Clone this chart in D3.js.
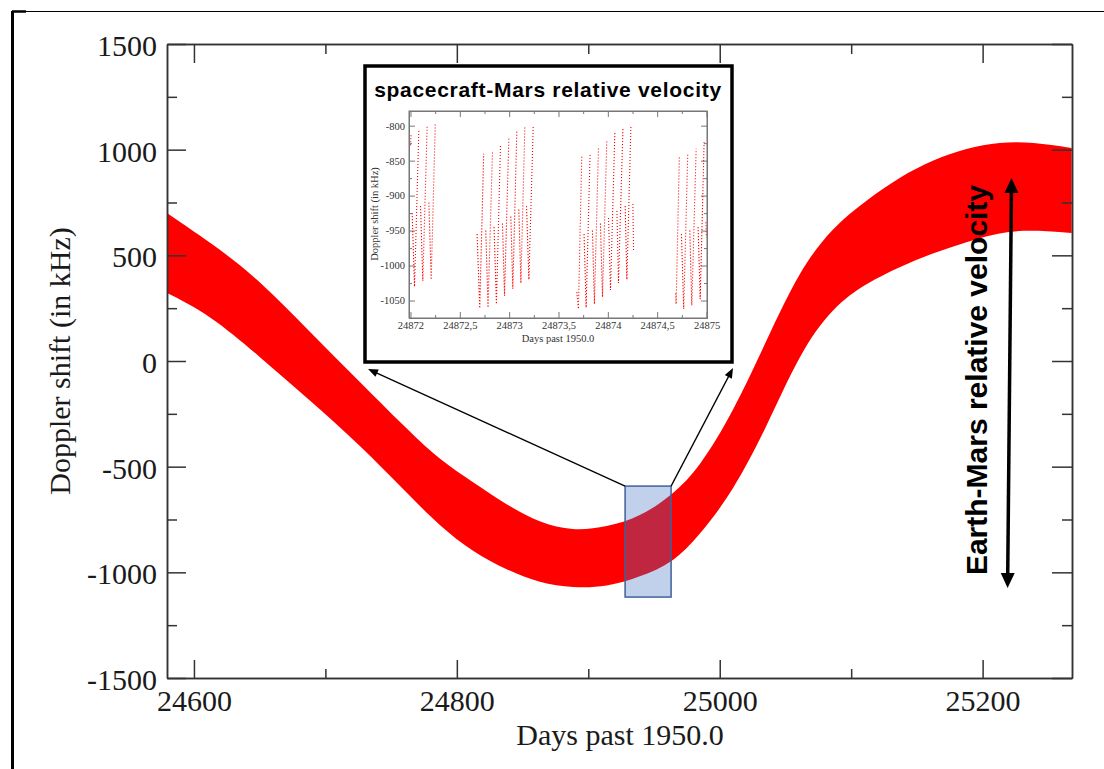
<!DOCTYPE html>
<html>
<head>
<meta charset="utf-8">
<script src="https://cdn.jsdelivr.net/npm/d3@7"></script>
<style>
  html, body { margin: 0; padding: 0; background: #fff; }
</style>
</head>
<body>
<svg id="chart" width="1104" height="769"></svg>
<script>
/* ----------------------
  Doppler shift band (Earth-Mars) + inset of
  spacecraft passes.
* ----------------------- */

// envelope of the red band (kHz)
var bandDays  = [24579.5, 24612.2, 24650.2, 24688.2, 24726.2, 24764.3, 24787.1, 24812.2, 24838.0, 24863.1,
                 24888.2, 24914.1, 24939.2, 24964.3, 24984.8, 25009.9, 25035.7, 25060.8, 25085.9, 25111.8,
                 25136.9, 25162.0, 25187.8, 25212.9, 25238.0, 25267.7];
var bandUpper = [700, 563, 383, 137, -99, -336, -469, -573, -681, -767,
                 -804, -786, -738, -634, -502, -246, 99, 431, 634, 762,
                 871, 951, 1008, 1036, 1036, 1008];
var bandLower = [322, 218, 19, -185, -398, -639, -781, -904, -989, -1051,
                 -1074, -1070, -1022, -956, -823, -620, -312, 38, 255, 369,
                 445, 511, 563, 610, 620, 606];

var xTicks = [24600, 24800, 25000, 25200];
var xMinor = [24700, 24900, 25100];
var yTicks = [-1500, -1000, -500, 0, 500, 1000, 1500];
var yMinor = [-1250, -750, -250, 250, 750, 1250];

// highlighted window on the main plot
var zoomDays = [24928, 24963];
var zoomKHz  = [-1117, -592];

// Earth-Mars arrow (bottom, top)
var arrowDays = [25219, 25222];
var arrowKHz  = [-1074, 866];

// inset axis ticks
var insetXTicks = [24872, 24872.5, 24873, 24873.5, 24874, 24874.5, 24875];
var insetXMinor = [24872.25, 24872.75, 24873.25, 24873.75, 24874.25, 24874.75];
var insetYTicks = [-1050, -1000, -950, -900, -850, -800];
var insetYMinor = [-1025, -975, -925, -875, -825];

// inset passes: [day, kHz] vertices of each dotted trace
var insetPasses = [
  [[24872.0, -828], [24872.005, -813]],
  [[24872.017, -925], [24872.041, -1030], [24872.085, -805]],
  [[24872.102, -915], [24872.125, -1022], [24872.169, -800]],
  [[24872.186, -910], [24872.210, -1020], [24872.251, -798]],
  [[24872.675, -955], [24872.702, -1061], [24872.742, -840]],
  [[24872.763, -950], [24872.786, -1060], [24872.831, -837]],
  [[24872.847, -945], [24872.871, -1055], [24872.912, -828]],
  [[24872.932, -940], [24872.953, -1043], [24872.997, -818]],
  [[24873.017, -930], [24873.037, -1033], [24873.078, -808]],
  [[24873.098, -920], [24873.119, -1025], [24873.159, -802]],
  [[24873.176, -915], [24873.200, -1020], [24873.244, -800]],
  [[24873.685, -1038], [24873.702, -1062], [24873.736, -842]],
  [[24873.759, -955], [24873.780, -1060], [24873.820, -840]],
  [[24873.844, -950], [24873.864, -1055], [24873.905, -832]],
  [[24873.925, -940], [24873.946, -1045], [24873.990, -820]],
  [[24874.007, -932], [24874.027, -1035], [24874.071, -810]],
  [[24874.092, -922], [24874.108, -1025], [24874.153, -803]],
  [[24874.176, -915], [24874.193, -1020], [24874.234, -800]],
  [[24874.254, -912], [24874.261, -980]],
  [[24874.688, -1040], [24874.692, -1055], [24874.725, -843]],
  [[24874.746, -955], [24874.769, -1062], [24874.810, -840]],
  [[24874.831, -950], [24874.851, -1057], [24874.895, -833]],
  [[24874.915, -945], [24874.936, -1048], [24874.976, -823]],
  [[24874.993, -938], [24875.000, -960]]
];

var serif = "'Liberation Serif', 'Times New Roman', serif";
var sans  = "'Liberation Sans', Arial, Helvetica, sans-serif";

// plain hyphen minus like the original figure
var plainFmt = function(d) { return String(d); };
var commaFmt = function(d) { return String(d).replace(".", ","); };

var svg = d3.select("#chart");

// outer frame (only left + top are visible in the figure)
svg.append("line").attr("x1", 12.5).attr("y1", 11).attr("x2", 12.5).attr("y2", 769)
  .attr("stroke", "#000").attr("stroke-width", 3);
svg.append("line").attr("x1", 12).attr("y1", 11.5).attr("x2", 1104).attr("y2", 11.5)
  .attr("stroke", "#000").attr("stroke-width", 1);
svg.append("line").attr("x1", 12).attr("y1", 11.5).attr("x2", 26).attr("y2", 11.5)
  .attr("stroke", "#000").attr("stroke-width", 2.5);

// ---- main plot ----
var x = d3.scaleLinear().domain([24579.5, 25268]).range([167, 1072]);
var y = d3.scaleLinear().domain([-1500, 1500]).range([678, 44]);

var area = d3.area()
  .x(function(d, i) { return x(bandDays[i]); })
  .y0(function(d, i) { return y(bandLower[i]); })
  .y1(function(d, i) { return y(bandUpper[i]); })
  .curve(d3.curveBasis);

svg.append("path")
  .datum(bandDays)
  .attr("d", area)
  .attr("fill", "#ff0000");

// highlight box
svg.append("rect")
  .attr("x", x(zoomDays[0]))
  .attr("y", y(zoomKHz[1]))
  .attr("width", x(zoomDays[1]) - x(zoomDays[0]))
  .attr("height", y(zoomKHz[0]) - y(zoomKHz[1]))
  .attr("fill", "#4472c4")
  .attr("fill-opacity", 0.33)
  .attr("stroke", "#3f6198")
  .attr("stroke-width", 1.5);

function styleAxis(g, color, width, size, family) {
  g.attr("font-size", size).attr("font-family", family);
  g.selectAll("path, line").attr("stroke", color).attr("stroke-width", width);
  g.selectAll("text").attr("fill", "#1a1a1a");
  return g;
}

// bottom / left with labels, top / right mirrored
var gx = svg.append("g").attr("transform", "translate(0,678)")
  .call(d3.axisBottom(x).tickValues(xTicks).tickFormat(plainFmt)
    .tickSizeInner(-18).tickSizeOuter(0).tickPadding(12));
styleAxis(gx, "#333", 1.5, 30, serif);
gx.selectAll("text").attr("dy", "0.71em");

svg.append("g").attr("transform", "translate(0,678)")
  .call(d3.axisBottom(x).tickValues(xMinor).tickFormat("").tickSizeInner(-9).tickSizeOuter(0))
  .call(styleAxis, "#333", 1.5, 10, serif);

var gy = svg.append("g").attr("transform", "translate(167,0)")
  .call(d3.axisLeft(y).tickValues(yTicks).tickFormat(plainFmt)
    .tickSizeInner(-19).tickSizeOuter(0).tickPadding(10));
styleAxis(gy, "#333", 1.5, 30, serif);
gy.selectAll("text").attr("dy", "0.38em");

svg.append("g").attr("transform", "translate(167,0)")
  .call(d3.axisLeft(y).tickValues(yMinor).tickFormat("").tickSizeInner(-10).tickSizeOuter(0))
  .call(styleAxis, "#333", 1.5, 10, serif);

svg.append("g").attr("transform", "translate(0,44)")
  .call(d3.axisTop(x).tickValues(xTicks).tickFormat("").tickSizeInner(-19).tickSizeOuter(0))
  .call(styleAxis, "#333", 1.5, 10, serif);
svg.append("g").attr("transform", "translate(0,44)")
  .call(d3.axisTop(x).tickValues(xMinor).tickFormat("").tickSizeInner(-10).tickSizeOuter(0))
  .call(styleAxis, "#333", 1.5, 10, serif);

svg.append("g").attr("transform", "translate(1072,0)")
  .call(d3.axisRight(y).tickValues(yTicks).tickFormat("").tickSizeInner(-20).tickSizeOuter(0))
  .call(styleAxis, "#333", 1.5, 10, serif);
svg.append("g").attr("transform", "translate(1072,0)")
  .call(d3.axisRight(y).tickValues(yMinor).tickFormat("").tickSizeInner(-10).tickSizeOuter(0))
  .call(styleAxis, "#333", 1.5, 10, serif);

// axis titles
svg.append("text")
  .attr("x", 620).attr("y", 745)
  .attr("text-anchor", "middle")
  .attr("font-family", serif).attr("font-size", 30).attr("fill", "#1a1a1a")
  .text("Days past 1950.0");

svg.append("text")
  .attr("transform", "translate(70,361) rotate(-90)")
  .attr("text-anchor", "middle")
  .attr("font-family", serif).attr("font-size", 30).attr("fill", "#1a1a1a")
  .text("Doppler shift (in kHz)");

// arrow helper: line + filled triangle at (x2,y2)
function drawArrow(g, x1, y1, x2, y2, headLen, headW, width, bothEnds) {
  var dx = x2 - x1, dy = y2 - y1, len = Math.sqrt(dx * dx + dy * dy);
  var ux = dx / len, uy = dy / len;
  var sx = bothEnds ? x1 + ux * headLen * 0.8 : x1;
  var sy = bothEnds ? y1 + uy * headLen * 0.8 : y1;
  g.append("line")
    .attr("x1", sx).attr("y1", sy)
    .attr("x2", x2 - ux * headLen * 0.8).attr("y2", y2 - uy * headLen * 0.8)
    .attr("stroke", "#000").attr("stroke-width", width);
  function head(tx, ty, vx, vy) {
    var bx = tx - vx * headLen, by = ty - vy * headLen;
    var pts = [[tx, ty], [bx - vy * headW / 2, by + vx * headW / 2], [bx + vy * headW / 2, by - vx * headW / 2]];
    g.append("polygon").attr("points", pts.map(function(p) { return p.join(","); }).join(" "))
      .attr("fill", "#000");
  }
  head(x2, y2, ux, uy);
  if (bothEnds) head(x1, y1, -ux, -uy);
}

// connectors from highlight box to inset
var ann = svg.append("g");
drawArrow(ann, x(zoomDays[0]), y(zoomKHz[1]), 368, 369, 10, 8, 1.3, false);
drawArrow(ann, x(zoomDays[1]), y(zoomKHz[1]), 733, 368, 10, 8, 1.3, false);

// Earth-Mars double arrow + label
drawArrow(ann, x(arrowDays[0]), y(arrowKHz[0]), x(arrowDays[1]), y(arrowKHz[1]), 15, 14, 3.5, true);
svg.append("text")
  .attr("transform", "translate(987,380) rotate(-90)")
  .attr("text-anchor", "middle")
  .attr("font-family", sans).attr("font-weight", "bold").attr("font-size", 30)
  .attr("fill", "#000")
  .text("Earth-Mars relative velocity");

// ---- inset ----
var inset = svg.append("g");
inset.append("rect")
  .attr("x", 365).attr("y", 66).attr("width", 367).attr("height", 296)
  .attr("fill", "#fff").attr("stroke", "#000").attr("stroke-width", 3.5);

inset.append("text")
  .attr("x", 548).attr("y", 97)
  .attr("text-anchor", "middle")
  .attr("font-family", sans).attr("font-weight", "bold").attr("font-size", 21)
  .attr("letter-spacing", 0.7)
  .attr("fill", "#000")
  .text("spacecraft-Mars relative velocity");

var ix = d3.scaleLinear().domain([24871.985, 24875.005]).range([409, 707]);
var iy = d3.scaleLinear().domain([-1075, -779]).range([318, 111]);

inset.append("rect")
  .attr("x", 409).attr("y", 111).attr("width", 298).attr("height", 207)
  .attr("fill", "none").attr("stroke", "#777").attr("stroke-width", 1);

var igx = inset.append("g").attr("transform", "translate(0,318)")
  .call(d3.axisBottom(ix).tickValues(insetXTicks).tickFormat(commaFmt)
    .tickSizeInner(-6).tickSizeOuter(0).tickPadding(4));
styleAxis(igx, "#777", 1, 10.5, serif);
igx.selectAll("text").attr("fill", "#333");
inset.append("g").attr("transform", "translate(0,318)")
  .call(d3.axisBottom(ix).tickValues(insetXMinor).tickFormat("").tickSizeInner(-3).tickSizeOuter(0))
  .call(styleAxis, "#777", 1, 10, serif);
inset.append("g").attr("transform", "translate(0,111)")
  .call(d3.axisTop(ix).tickValues(insetXTicks).tickFormat("").tickSizeInner(-6).tickSizeOuter(0))
  .call(styleAxis, "#777", 1, 10, serif);
inset.append("g").attr("transform", "translate(0,111)")
  .call(d3.axisTop(ix).tickValues(insetXMinor).tickFormat("").tickSizeInner(-3).tickSizeOuter(0))
  .call(styleAxis, "#777", 1, 10, serif);

var igy = inset.append("g").attr("transform", "translate(409,0)")
  .call(d3.axisLeft(iy).tickValues(insetYTicks).tickFormat(plainFmt)
    .tickSizeInner(-6).tickSizeOuter(0).tickPadding(4));
styleAxis(igy, "#777", 1, 10.5, serif);
igy.selectAll("text").attr("fill", "#333");
inset.append("g").attr("transform", "translate(409,0)")
  .call(d3.axisLeft(iy).tickValues(insetYMinor).tickFormat("").tickSizeInner(-3).tickSizeOuter(0))
  .call(styleAxis, "#777", 1, 10, serif);
inset.append("g").attr("transform", "translate(707,0)")
  .call(d3.axisRight(iy).tickValues(insetYTicks).tickFormat("").tickSizeInner(-6).tickSizeOuter(0))
  .call(styleAxis, "#777", 1, 10, serif);
inset.append("g").attr("transform", "translate(707,0)")
  .call(d3.axisRight(iy).tickValues(insetYMinor).tickFormat("").tickSizeInner(-3).tickSizeOuter(0))
  .call(styleAxis, "#777", 1, 10, serif);

inset.append("text")
  .attr("x", 558).attr("y", 342)
  .attr("text-anchor", "middle")
  .attr("font-family", serif).attr("font-size", 10.5).attr("fill", "#333")
  .text("Days past 1950.0");
inset.append("text")
  .attr("transform", "translate(378,214) rotate(-90)")
  .attr("text-anchor", "middle")
  .attr("font-family", serif).attr("font-size", 10.5).attr("fill", "#333")
  .text("Doppler shift (in kHz)");

var passLine = d3.line()
  .x(function(d) { return ix(d[0]); })
  .y(function(d) { return iy(d[1]); });

inset.selectAll(".pass")
  .data(insetPasses)
  .enter()
  .append("path")
  .attr("class", "pass")
  .attr("d", passLine)
  .attr("fill", "none")
  .attr("stroke", "#ff0000")
  .attr("stroke-width", 1.1)
  .attr("stroke-dasharray", "1.1 1.9");
</script>
</body>
</html>
